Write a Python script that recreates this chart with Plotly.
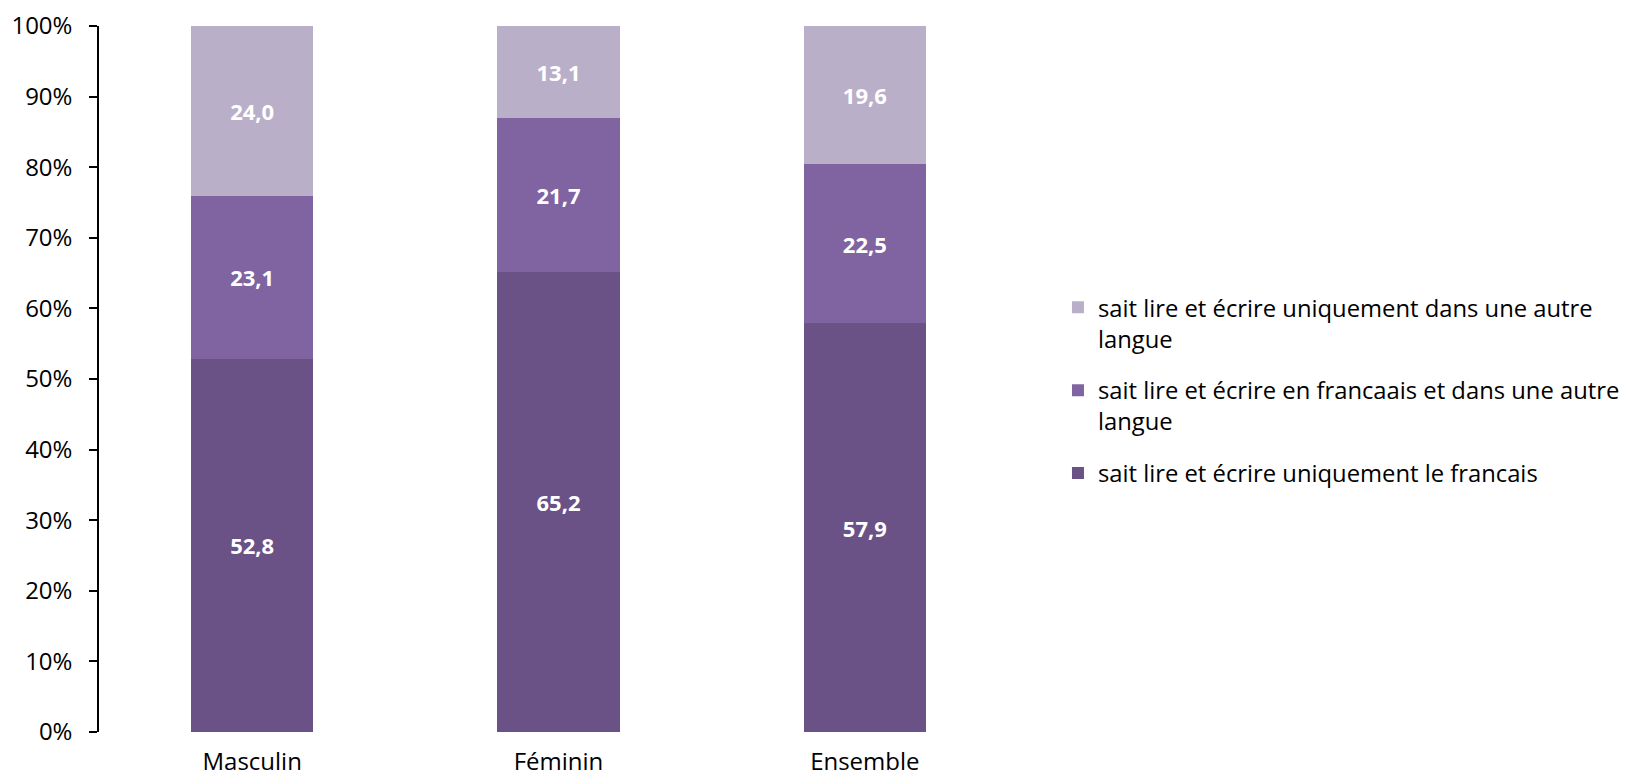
import plotly.graph_objects as go

categories = ["Masculin", "Féminin", "Ensemble"]
uniquement_francais = [52.8, 65.2, 57.9]
francais_et_autre = [23.1, 21.7, 22.5]
uniquement_autre = [24.0, 13.1, 19.6]

series = [
    ("sait lire et écrire uniquement le francais", uniquement_francais, "#6A5186"),
    ("sait lire et écrire en francaais et dans une autre<br>langue", francais_et_autre, "#8064A2"),
    ("sait lire et écrire uniquement dans une autre<br>langue", uniquement_autre, "#BAAFC9"),
]

fig = go.Figure()
for i, (name, vals, color) in enumerate(series):
    fig.add_trace(go.Bar(
        x=categories, y=vals, name=name, legendgroup=f"g{i}", legendrank=1000 - i,
        marker=dict(color=color, line=dict(width=0)),
        text=[f"{v:.1f}".replace(".", ",") for v in vals],
        textposition="inside", insidetextanchor="middle",
        textfont=dict(color="white", size=22, family="Open Sans"),
        texttemplate="<b>%{text}</b>",
        width=0.4,
    ))

fig.update_layout(
    barmode="stack", barnorm="percent",
    width=1629, height=770,
    margin=dict(l=91, r=619, t=18, b=46, autoexpand=False),
    plot_bgcolor="white", paper_bgcolor="white",
    font=dict(family="Open Sans", size=24, color="#000000"),
    showlegend=True,
    legend=dict(traceorder="grouped", x=1.0435, xanchor="left", y=0.484, yanchor="middle",
                valign="top", font=dict(size=23.8, color="#000"), itemwidth=30,
                tracegroupgap=18),
    uniformtext=dict(minsize=10, mode="show"),
)
fig.update_yaxes(range=[0, 100], tickvals=list(range(0, 101, 10)),
                 ticktext=[f"{v}%" for v in range(0, 101, 10)],
                 showline=True, linecolor="black", linewidth=1.5,
                 ticks="outside", ticklen=8, tickcolor="black", tickwidth=1.5,
                 showgrid=False, zeroline=False, ticklabelstandoff=12,
                 tickfont=dict(size=24), automargin=False)
fig.update_xaxes(range=[-0.5, 2.5], showline=False, showgrid=False, ticks="",
                 tickfont=dict(size=24), ticklabelstandoff=13, automargin=False)

fig.write_html("out.html")
